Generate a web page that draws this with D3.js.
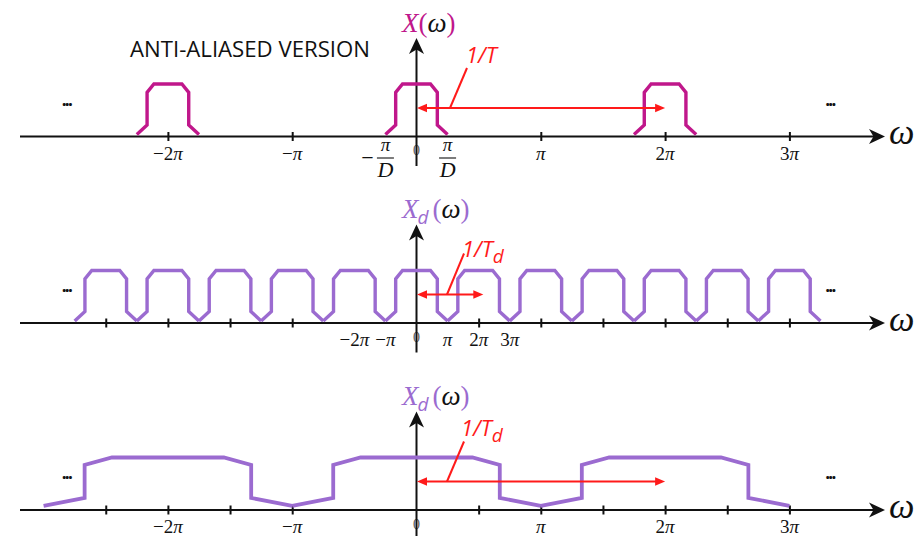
<!DOCTYPE html>
<html>
<head>
<meta charset="utf-8">
<script src="https://cdn.jsdelivr.net/npm/d3@7"></script>
<style>
  body { margin: 0; background: #fff; }
</style>
</head>
<body>
<script>
// Frequencies are in units of π.
const D = 4;                                   // decimation factor

// X(ω): replicas every 2π, support ±π/D
const topCenters = [-2, 0, 2];
const topHalfWidth = 1 / D;
// Xd(ω) (narrow view): replicas every 2π of the decimated frequency
const midCenters = [-10, -8, -6, -4, -2, 0, 2, 4, 6, 8, 10, 12];
const midHalfWidth = 1;
// Xd(ω) (wide view): replicas every 2π, support ±π
const botCenters = [-2, 0, 2];
const botHalfWidth = 1;

// Pulse outline: offset relative to half-width, level relative to peak
const pulseX = [-1, -0.67, -0.67, -0.45, 0.45, 0.67, 0.67, 1];
const pulseY = [0.04, 0.22, 0.84, 1, 1, 0.84, 0.22, 0.04];
const widePulseY = [0.08, 0.23, 0.86, 1, 1, 0.86, 0.23, 0.08];

// Ticks and labels
const topTickValues = [-2, -1, 1, 2, 3];
const topLabelValues = [-2, -1, 1, 2, 3];
const midTickValues = [-10, -8, -6, -4, 2, 4, 6, 8, 10, 12];   // decimated units
const midLabelValues = [-2, -1, 1, 2, 3];
const botTickValues = [-2.5, -2, -1.5, -1, 0.5, 1, 1.5, 2, 2.5, 3];
const botLabelValues = [-2, -1, 1, 2, 3];
const labelCoef = { "-2": "−2", "-1": "−", "1": "", "2": "2", "3": "3" };
const fracValues = [-1 / D, 1 / D];

// Period arrows: end point of each, in the panel's own frequency units
const arrowEnds = [2, 2.15, 2];

const W = 923, H = 536;
const MAGENTA = "#c0178b", PURPLE = "#9b6bd0", RED = "#ff1a1a", INK = "#111";
const MATH = "'Liberation Serif', 'DejaVu Serif', serif";
const SANS = "'Open Sans', 'Noto Sans', sans-serif";

const svg = d3.select("body").append("svg")
  .attr("width", W).attr("height", H)
  .attr("viewBox", `0 0 ${W} ${H}`);

// ω/π → px, and the decimated frequency ω/π → px (stretched by D)
const x = d3.scaleLinear().domain([0, 1]).range([416.5, 540.8]);
const xMid = d3.scaleLinear().domain([0, D]).range([416.5, 540.8]);

const AXIS_LEFT = 20, AXIS_TIP = 885;
const AMP = 52.5;

const panels = [
  { axisY: 136.5, xs: x, centers: topCenters, half: topHalfWidth, levels: pulseY,
    color: MAGENTA, sw: 3.4, ticks: topTickValues, tickScale: x,
    labelValues: topLabelValues, labelScale: x, arrowEnd: arrowEnds[0], arrowScale: x,
    sub: false, leadX: 33.5, leadTop: 40, txtX: 466, txtDY: 45.5 },
  { axisY: 323, xs: xMid, centers: midCenters, half: midHalfWidth, levels: pulseY,
    color: PURPLE, sw: 3.4, ticks: midTickValues, tickScale: xMid,
    labelValues: midLabelValues, labelScale: xMid, arrowEnd: arrowEnds[1], arrowScale: xMid,
    sub: true, leadX: 30.5, leadTop: 41, txtX: 462, txtDY: 38 },
  { axisY: 510, xs: x, centers: botCenters, half: botHalfWidth, levels: widePulseY,
    color: PURPLE, sw: 3.8, ticks: botTickValues, tickScale: x,
    labelValues: botLabelValues, labelScale: x, arrowEnd: arrowEnds[2], arrowScale: x,
    sub: true, leadX: 30.5, leadTop: 40, txtX: 461, txtDY: 46 }
];

const stealth = "M0,0 L-16,-7.5 L-11.5,0 L-16,7.5 Z";
const smallHead = "M0,0 L-10,-4.2 L-10,4.2 Z";

// Title
svg.append("text")
  .attr("x", 130).attr("y", 56.5)
  .attr("font-family", SANS).attr("font-size", 22)
  .attr("textLength", 240).attr("lengthAdjust", "spacingAndGlyphs")
  .attr("fill", INK)
  .text("ANTI-ALIASED VERSION");

panels.forEach((p, pi) => {
  const g = svg.append("g");
  const y = d3.scaleLinear().domain([0, 1]).range([p.axisY, p.axisY - AMP]);
  const x0 = x(0);

  // origin label (sits under the vertical axis)
  g.append("text")
    .attr("x", x0).attr("y", p.axisY + 18.5)
    .attr("text-anchor", "middle")
    .attr("font-family", MATH).attr("font-size", 14).attr("fill", "#555")
    .text("0");

  // horizontal axis with arrow
  g.append("line")
    .attr("x1", AXIS_LEFT).attr("x2", AXIS_TIP - 10)
    .attr("y1", p.axisY).attr("y2", p.axisY)
    .attr("stroke", INK).attr("stroke-width", 2);
  g.append("path").attr("d", stealth)
    .attr("transform", `translate(${AXIS_TIP},${p.axisY})`)
    .attr("fill", INK);
  g.append("text")
    .attr("x", 889).attr("y", p.axisY + 7.5)
    .attr("font-family", MATH).attr("font-style", "italic")
    .attr("font-size", 36).attr("fill", INK)
    .text("ω");

  // ticks crossing the axis
  const ax = g.append("g")
    .attr("transform", `translate(0,${p.axisY})`)
    .call(d3.axisBottom(p.tickScale).tickValues(p.ticks).tickSize(4).tickFormat(""));
  ax.select(".domain").remove();
  ax.selectAll(".tick line")
    .attr("y1", -4.5).attr("y2", 4.5)
    .attr("stroke", INK).attr("stroke-width", 2);

  // vertical axis with arrow
  g.append("line")
    .attr("x1", x0).attr("x2", x0)
    .attr("y1", p.axisY + 29.5).attr("y2", p.axisY - 90)
    .attr("stroke", INK).attr("stroke-width", 2);
  g.append("path").attr("d", stealth)
    .attr("transform", `translate(${x0},${p.axisY - 98.5}) rotate(-90)`)
    .attr("fill", INK);

  // tick labels
  const lab = g.append("g")
    .attr("font-family", MATH).attr("font-size", 19).attr("fill", INK)
    .attr("text-anchor", "middle");
  p.labelValues.forEach(v => {
    const t = lab.append("text")
      .attr("x", p.labelScale(v)).attr("y", p.axisY + 23);
    t.append("tspan").text(labelCoef[String(v)]);
    t.append("tspan").attr("font-style", "italic").text("π");
  });

  // fractions ±π/D on the top panel
  if (pi === 0) {
    fracValues.forEach(v => {
      const cx = x(v);
      const fg = g.append("g").attr("font-family", MATH).attr("fill", INK)
        .attr("text-anchor", "middle");
      fg.append("text").attr("x", cx).attr("y", p.axisY + 14.5)
        .attr("font-size", 19).attr("font-style", "italic").text("π");
      fg.append("line")
        .attr("x1", cx - 8.5).attr("x2", cx + 8.5)
        .attr("y1", p.axisY + 21.5).attr("y2", p.axisY + 21.5)
        .attr("stroke", INK).attr("stroke-width", 1.1);
      fg.append("text").attr("x", cx).attr("y", p.axisY + 40)
        .attr("font-size", 22).attr("font-style", "italic").text("D");
      if (v < 0) {
        fg.append("text").attr("x", cx - 18).attr("y", p.axisY + 28)
          .attr("font-size", 22).text("−");
      }
    });
  }

  // spectrum replicas
  const line = d3.line().x(d => p.xs(d[0])).y(d => y(d[1]));
  p.centers.forEach(c => {
    const pts = pulseX.map((dx, i) => [c + dx * p.half, p.levels[i]]);
    g.append("path")
      .attr("d", line(pts))
      .attr("fill", "none")
      .attr("stroke", p.color)
      .attr("stroke-width", p.sw)
      .attr("stroke-linejoin", "miter");
  });

  // continuation dots
  [66.5, 830].forEach(dx => {
    g.append("text")
      .attr("x", dx).attr("y", p.axisY - 31)
      .attr("text-anchor", "middle")
      .attr("font-family", SANS).attr("font-weight", "bold")
      .attr("font-size", 17).attr("letter-spacing", -1.6)
      .attr("fill", INK)
      .text("...");
  });

  // y-axis title
  const ty = p.axisY - 105;
  const tt = g.append("text")
    .attr("x", 402).attr("y", ty)
    .attr("font-family", MATH).attr("font-size", 27);
  tt.append("tspan").attr("font-style", "italic").attr("fill", p.color).text("X");
  if (p.sub) {
    tt.append("tspan").attr("font-family", SANS).attr("font-style", "italic")
      .attr("font-size", 19).attr("dy", 6).attr("dx", -1)
      .attr("fill", p.color).text("d");
    tt.append("tspan").attr("dy", -6).attr("dx", 4).attr("fill", p.color).text("(");
  } else {
    tt.append("tspan").attr("fill", p.color).text("(");
  }
  tt.append("tspan").attr("font-style", "italic").attr("fill", INK).text("ω");
  tt.append("tspan").attr("fill", p.color).text(")");

  // period arrow with leader and label
  const ay = p.axisY - 28.5;
  const xa = x0 + 0.5, xb = p.arrowScale(p.arrowEnd);
  g.append("line")
    .attr("x1", xa + 8).attr("x2", xb - 8)
    .attr("y1", ay).attr("y2", ay)
    .attr("stroke", RED).attr("stroke-width", 2);
  g.append("path").attr("d", smallHead)
    .attr("transform", `translate(${xa},${ay}) rotate(180)`).attr("fill", RED);
  g.append("path").attr("d", smallHead)
    .attr("transform", `translate(${xb},${ay})`).attr("fill", RED);
  g.append("line")
    .attr("x1", x0 + p.leadX).attr("y1", ay)
    .attr("x2", x0 + p.leadX + 17).attr("y2", ay - p.leadTop)
    .attr("stroke", RED).attr("stroke-width", 2);
  const lt = g.append("text")
    .attr("x", p.txtX).attr("y", ay - p.txtDY)
    .attr("font-family", SANS).attr("font-style", "italic")
    .attr("font-size", 22).attr("fill", RED);
  lt.append("tspan").text("1/T");
  if (p.sub) {
    lt.append("tspan").attr("font-size", 19).attr("dy", 6).text("d");
  }
});
</script>
</body>
</html>
